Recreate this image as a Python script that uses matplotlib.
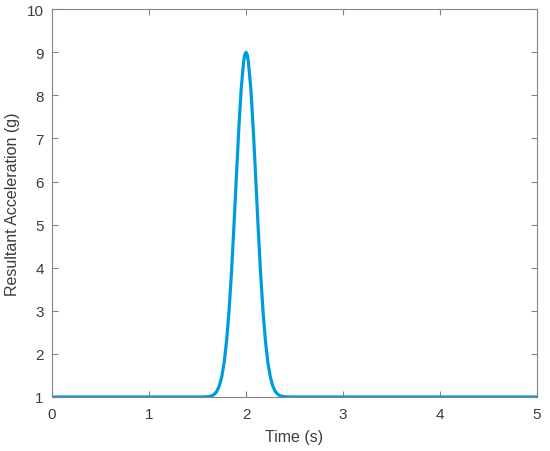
import matplotlib
matplotlib.use("Agg")
import matplotlib.pyplot as plt

plt.rcParams['font.family'] = ['Liberation Sans', 'DejaVu Sans']

time_s = [0.0, 0.5, 1.0, 1.5, 1.55, 1.6, 1.625, 1.65, 1.675, 1.7, 1.725, 1.75, 1.775,
          1.8, 1.825, 1.85, 1.875, 1.9, 1.925, 1.95, 1.975, 1.9875, 2.0,
          2.0125, 2.025, 2.05, 2.075, 2.1, 2.125, 2.15, 2.175, 2.2, 2.225, 2.25,
          2.275, 2.3, 2.325, 2.35, 2.375, 2.4, 2.45, 2.5, 3.0, 3.5, 4.0, 4.5, 5.0]
accel_g = [1.0, 1.0, 1.0, 1.0, 1.0, 1.006, 1.014, 1.031, 1.066, 1.135, 1.259, 1.470, 1.806,
           2.304, 2.995, 3.883, 4.939, 6.083, 7.198, 8.142, 8.777, 8.944, 9.0,
           8.944, 8.777, 8.142, 7.198, 6.083, 4.939, 3.883, 2.995, 2.304, 1.806, 1.470,
           1.259, 1.135, 1.066, 1.031, 1.014, 1.006, 1.0, 1.0, 1.0, 1.0, 1.0, 1.0, 1.0]

x_ticks = [0, 1, 2, 3, 4, 5]
y_ticks = [1, 2, 3, 4, 5, 6, 7, 8, 9, 10]

text_color = '#3c3c3c'
axis_color = '#858585'

fig = plt.figure(figsize=(5.5, 4.52), dpi=100)
ax = fig.add_axes([0.0945, 0.1195, 0.882, 0.858])
ax.plot(time_s, accel_g, color='#009ade', linewidth=2.3, solid_joinstyle='round')
ax.set_xlim(0, 5)
ax.set_ylim(1, 10)
ax.set_xticks(x_ticks)
ax.set_yticks(y_ticks)
ax.tick_params(direction='in', length=4, width=0.8, colors=axis_color, labelsize=11,
               top=True, right=True, labelcolor=text_color)
ax.tick_params(axis='x', pad=7)
ax.tick_params(axis='y', pad=6)
for s in ax.spines.values():
    s.set_color(axis_color)
    s.set_linewidth(0.8)
ax.set_xlabel('Time (s)', fontsize=11.5, color=text_color, labelpad=6)
ax.set_ylabel('Resultant Acceleration (g)', fontsize=11.5, color=text_color, labelpad=5)
fig.savefig('out.png', dpi=100)
